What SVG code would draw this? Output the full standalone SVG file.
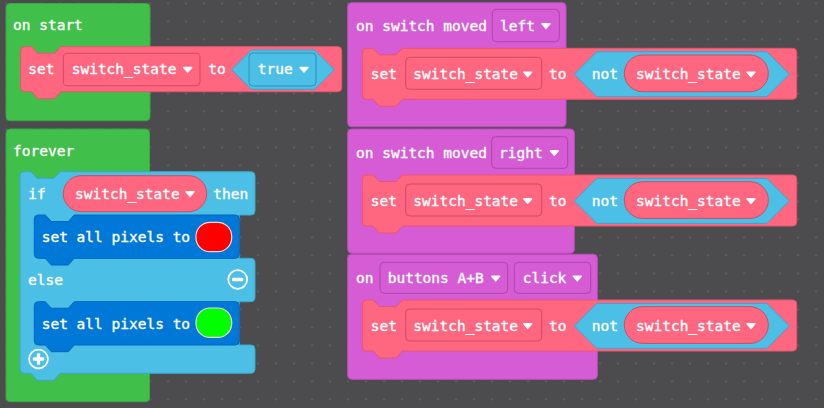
<svg xmlns="http://www.w3.org/2000/svg" xmlns:xlink="http://www.w3.org/1999/xlink" width="824" height="408" viewBox="0 0 824 408">
  <style>
    .t { font-family: "DejaVu Sans Mono", "Liberation Mono", monospace; font-size: 14.5px; fill: #ffffff; stroke: #ffffff; stroke-width: 0.35; }
    .grn { fill: #40bf4a; stroke: #37a841; stroke-width: 1; }
    .pur { fill: #d65cd6; stroke: #bd4fbd; stroke-width: 1; }
    .pink { fill: #ff6680; stroke: #e5566f; stroke-width: 1; }
    .pdd { fill: #ff6680; stroke: #cc4d64; stroke-width: 1; }
    .purdd { fill: #d65cd6; stroke: #a846a8; stroke-width: 1; }
    .lb { fill: #4cbfe6; stroke: #3aa6cc; stroke-width: 1; }
    .lbdd { fill: #4cbfe6; stroke: #3291b5; stroke-width: 1; }
    .db { fill: #0078d7; stroke: #0066bb; stroke-width: 1; }
    .led { stroke: #f2d8d8; stroke-width: 1.2; }
    .ico { fill: none; stroke: #ffffff; stroke-width: 1.8; }
    .bar { fill: #ffffff; }
    .arw { fill: #ffffff; stroke: #ffffff; stroke-width: 1.4; stroke-linejoin: round; }
  </style>
  <defs>
    <pattern id="grid" x="5.3" y="2.6" width="18" height="18" patternUnits="userSpaceOnUse">
      <rect x="0" y="0" width="1.5" height="1.5" fill="#6c6c70"/>
    </pattern>
    <!-- dropdown caret -->
    <path id="caret" class="arw" d="M-4,-2.2 L4,-2.2 L0,2.4 Z"/>
    <!-- statement block "set switch_state to not ..." body, local coords -->
    <path id="setNotBody" d="M0,4 Q0,0 4,0 L11,0 L17,6.5 L34,6.5 L40,0 L430.4,0 Q434.4,0 434.4,4 L434.4,47 Q434.4,51 430.4,51 L40,51 L34,58 L17,58 L11,51 L4,51 Q0,51 0,47 Z"/>
    <path id="notHex" d="M212,25.9 L234.5,3.4 L404.5,3.4 L427,25.9 L404.5,48.4 L234.5,48.4 Z"/>
    <path id="pixelsBody" d="M0,4 Q0,0 4,0 L11,0 L17,6.5 L34,6.5 L40,0 L201,0 Q205,0 205,4 L205,39.3 Q205,43.3 201,43.3 L40,43.3 L34,50 L17,50 L11,43.3 L4,43.3 Q0,43.3 0,39.3 Z"/>
  </defs>

  <!-- workspace -->
  <rect x="0" y="0" width="824" height="408" fill="#4c4c4f"/>
  <rect x="0" y="0" width="824" height="408" fill="url(#grid)"/>

  <!-- on start -->
  <g id="on-start">
    <rect class="grn" x="6" y="3.5" width="144" height="117.2" rx="4"/>
    <text class="t" x="13" y="30">on start</text>
    <g id="set-true" transform="translate(20.7,46.7)">
      <path class="pink" d="M0,4 Q0,0 4,0 L11,0 L17,6.5 L34,6.5 L40,0 L317,0 Q321,0 321,4 L321,41 Q321,45 317,45 L40,45 L34,52 L17,52 L11,45 L4,45 Q0,45 0,41 Z"/>
      <text class="t" x="7.6" y="27.5">set</text>
      <rect class="pdd" x="42.6" y="6.6" width="136.7" height="32.4" rx="4"/>
      <text class="t" x="51" y="27.5">switch_state</text>
      <use xlink:href="#caret" x="167" y="23"/>
      <text class="t" x="187.6" y="27.5">to</text>
      <path class="lb" d="M211,23 L230.7,3.3 L293.9,3.3 L313.6,23 L293.9,42.6 L230.7,42.6 Z"/>
      <rect class="lbdd" x="228.3" y="6.3" width="67" height="33" rx="4"/>
      <text class="t" x="237" y="27.5">true</text>
      <use xlink:href="#caret" x="283.3" y="23"/>
    </g>
  </g>

  <!-- forever -->
  <g id="forever">
    <rect class="grn" x="6" y="129" width="143.5" height="272.7" rx="4"/>
    <text class="t" x="13" y="156">forever</text>
  </g>

  <!-- if / else -->
  <g id="if-else">
    <path class="lb" d="M20,175.7 Q20,171.7 24,171.7 L31,171.7 L37,178.2 L54,178.2 L60,171.7 L251,171.7 Q255,171.7 255,175.7 L255,211 Q255,215 251,215 L239.3,215 L239.3,258.3 L251,258.3 Q255,258.3 255,262.3 L255,297.7 Q255,301.7 251,301.7 L239.3,301.7 L239.3,345 L251,345 Q255,345 255,349 L255,369.3 Q255,373.3 251,373.3 L60,373.3 L54,380.3 L37,380.3 L31,373.3 L24,373.3 Q20,373.3 20,369.3 Z"/>
    <text class="t" x="28.3" y="198.5">if</text>
    <rect class="pdd" x="63.3" y="175.7" width="143.4" height="36" rx="18"/>
    <text class="t" x="75" y="198.5">switch_state</text>
    <use xlink:href="#caret" x="190" y="194"/>
    <text class="t" x="213.3" y="198.5">then</text>
    <text class="t" x="28" y="285">else</text>
    <circle class="ico" cx="237.7" cy="279.5" r="9.4"/>
    <rect class="bar" x="232" y="277.8" width="11.4" height="3.4" rx="1"/>
    <circle class="ico" cx="38.5" cy="359" r="9.4"/>
    <rect class="bar" x="32.8" y="357.3" width="11.4" height="3.4" rx="1"/>
    <rect class="bar" x="36.8" y="353.3" width="3.4" height="11.4" rx="1"/>
  </g>

  <g id="pixels-red" transform="translate(34.3,215)">
    <use xlink:href="#pixelsBody" class="db"/>
    <text class="t" x="7.4" y="27">set all pixels to</text>
    <rect class="led" x="161.7" y="7.3" width="35.7" height="29.4" rx="14" fill="#ff0000"/>
  </g>

  <g id="pixels-green" transform="translate(34.3,301.7)">
    <use xlink:href="#pixelsBody" class="db"/>
    <text class="t" x="7.4" y="27">set all pixels to</text>
    <rect class="led" x="161.7" y="6.3" width="35.7" height="29.4" rx="14" fill="#00ff00"/>
  </g>

  <!-- on switch moved left -->
  <g id="switch-left">
    <rect class="pur" x="347.7" y="2.7" width="218.3" height="124" rx="4"/>
    <text class="t" x="356" y="30.5">on switch moved</text>
    <rect class="purdd" x="492.3" y="9.3" width="67" height="32.4" rx="4"/>
    <text class="t" x="500" y="30.5">left</text>
    <use xlink:href="#caret" x="546" y="26"/>
    <g transform="translate(362.3,48.3)">
      <use xlink:href="#setNotBody" class="pink"/>
      <text class="t" x="8.4" y="30.7">set</text>
      <rect class="pdd" x="43.4" y="9" width="136" height="32" rx="4"/>
      <text class="t" x="51" y="30.7">switch_state</text>
      <use xlink:href="#caret" x="165.4" y="26"/>
      <text class="t" x="186.7" y="30.7">to</text>
      <use xlink:href="#notHex" class="lb"/>
      <text class="t" x="229.4" y="30.7">not</text>
      <rect class="pdd" x="262" y="6.7" width="144" height="36.7" rx="18.3"/>
      <text class="t" x="273.7" y="30.7">switch_state</text>
      <use xlink:href="#caret" x="388.7" y="26"/>
    </g>
  </g>

  <!-- on switch moved right -->
  <g id="switch-right">
    <rect class="pur" x="347.7" y="129" width="226.6" height="124.3" rx="4"/>
    <text class="t" x="356" y="157.5">on switch moved</text>
    <rect class="purdd" x="491.7" y="136.7" width="76" height="31.6" rx="4"/>
    <text class="t" x="499" y="157.5">right</text>
    <use xlink:href="#caret" x="554.3" y="153"/>
    <g transform="translate(362.3,175)">
      <use xlink:href="#setNotBody" class="pink"/>
      <text class="t" x="8.4" y="30.7">set</text>
      <rect class="pdd" x="43.4" y="9" width="136" height="32" rx="4"/>
      <text class="t" x="51" y="30.7">switch_state</text>
      <use xlink:href="#caret" x="165.4" y="26"/>
      <text class="t" x="186.7" y="30.7">to</text>
      <use xlink:href="#notHex" class="lb"/>
      <text class="t" x="229.4" y="30.7">not</text>
      <rect class="pdd" x="262" y="6.7" width="144" height="36.7" rx="18.3"/>
      <text class="t" x="273.7" y="30.7">switch_state</text>
      <use xlink:href="#caret" x="388.7" y="26"/>
    </g>
  </g>

  <!-- on buttons A+B click -->
  <g id="buttons-ab">
    <rect class="pur" x="347.7" y="254.3" width="249.6" height="125" rx="4"/>
    <text class="t" x="356" y="283">on</text>
    <rect class="purdd" x="380" y="262.3" width="127.7" height="31" rx="4"/>
    <text class="t" x="387.7" y="283">buttons A+B</text>
    <use xlink:href="#caret" x="495.7" y="278.5"/>
    <rect class="purdd" x="514.3" y="262.3" width="76.4" height="31" rx="4"/>
    <text class="t" x="522.7" y="283">click</text>
    <use xlink:href="#caret" x="577.3" y="278.5"/>
    <g transform="translate(362.3,300)">
      <use xlink:href="#setNotBody" class="pink"/>
      <text class="t" x="8.4" y="30.7">set</text>
      <rect class="pdd" x="43.4" y="9" width="136" height="32" rx="4"/>
      <text class="t" x="51" y="30.7">switch_state</text>
      <use xlink:href="#caret" x="165.4" y="26"/>
      <text class="t" x="186.7" y="30.7">to</text>
      <use xlink:href="#notHex" class="lb"/>
      <text class="t" x="229.4" y="30.7">not</text>
      <rect class="pdd" x="262" y="6.7" width="144" height="36.7" rx="18.3"/>
      <text class="t" x="273.7" y="30.7">switch_state</text>
      <use xlink:href="#caret" x="388.7" y="26"/>
    </g>
  </g>
</svg>
